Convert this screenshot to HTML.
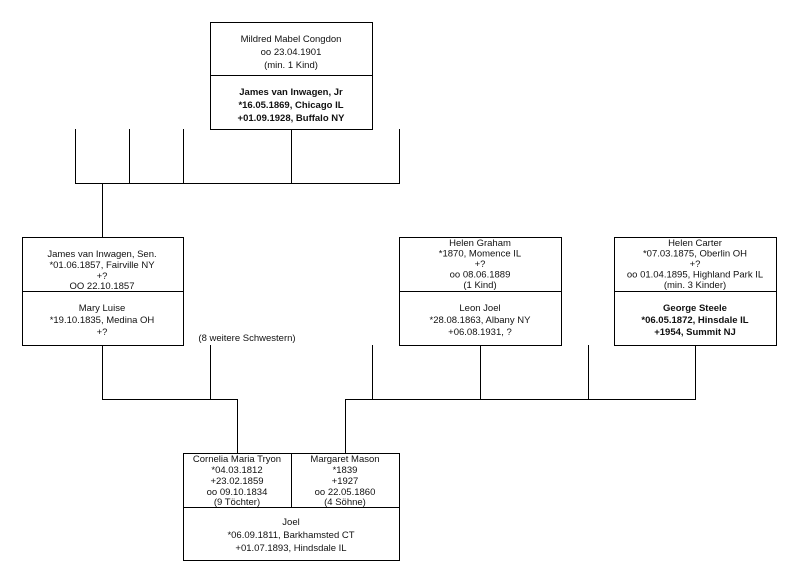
<!DOCTYPE html>
<html><head><meta charset="utf-8"><style>
html,body{margin:0;padding:0;background:#fff;}
svg{display:block;}
text{font-family:"Liberation Sans",sans-serif;font-size:9.5px;fill:#111;text-anchor:middle;}
.b{font-weight:bold;}
</style></head><body>
<svg width="798" height="583" viewBox="0 0 798 583" xmlns="http://www.w3.org/2000/svg">
<g fill="none" stroke="#000" stroke-width="1">
<rect x="210.5" y="22.5" width="162" height="107"/>
<line x1="210" y1="75.5" x2="372" y2="75.5"/>
<rect x="22.5" y="237.5" width="161" height="108"/>
<line x1="22" y1="291.5" x2="183" y2="291.5"/>
<rect x="399.5" y="237.5" width="162" height="108"/>
<line x1="399" y1="291.5" x2="561" y2="291.5"/>
<rect x="614.5" y="237.5" width="162" height="108"/>
<line x1="614" y1="291.5" x2="776" y2="291.5"/>
<rect x="183.5" y="453.5" width="216" height="107"/>
<line x1="183" y1="507.5" x2="399" y2="507.5"/>
<line x1="291.5" y1="453" x2="291.5" y2="507"/>
<line x1="75.5" y1="129" x2="75.5" y2="183"/>
<line x1="129.5" y1="129" x2="129.5" y2="183"/>
<line x1="183.5" y1="129" x2="183.5" y2="183"/>
<line x1="291.5" y1="129" x2="291.5" y2="183"/>
<line x1="399.5" y1="129" x2="399.5" y2="183"/>
<line x1="75" y1="183.5" x2="400" y2="183.5"/>
<line x1="102.5" y1="183" x2="102.5" y2="237"/>
<line x1="102.5" y1="345" x2="102.5" y2="399"/>
<line x1="210.5" y1="345" x2="210.5" y2="399"/>
<line x1="102" y1="399.5" x2="238" y2="399.5"/>
<line x1="237.5" y1="399" x2="237.5" y2="453"/>
<line x1="372.5" y1="345" x2="372.5" y2="399"/>
<line x1="480.5" y1="345" x2="480.5" y2="399"/>
<line x1="588.5" y1="345" x2="588.5" y2="399"/>
<line x1="695.5" y1="345" x2="695.5" y2="399"/>
<line x1="345" y1="399.5" x2="696" y2="399.5"/>
<line x1="345.5" y1="399" x2="345.5" y2="453"/>
</g>
<text x="291" y="42">Mildred Mabel Congdon</text>
<text x="291" y="55">oo 23.04.1901</text>
<text x="291" y="68">(min. 1 Kind)</text>
<text class="b" x="291" y="95">James van Inwagen, Jr</text>
<text class="b" x="291" y="108">*16.05.1869, Chicago IL</text>
<text class="b" x="291" y="121">+01.09.1928, Buffalo NY</text>

<text x="102" y="257">James van Inwagen, Sen.</text>
<text x="102" y="268">*01.06.1857, Fairville NY</text>
<text x="102" y="279">+?</text>
<text x="102" y="289">OO 22.10.1857</text>
<text x="102" y="311">Mary Luise</text>
<text x="102" y="323">*19.10.1835, Medina OH</text>
<text x="102" y="335">+?</text>
<text x="247" y="341">(8 weitere Schwestern)</text>

<text x="480" y="246">Helen Graham</text>
<text x="480" y="256.5">*1870, Momence IL</text>
<text x="480" y="267">+?</text>
<text x="480" y="277.5">oo 08.06.1889</text>
<text x="480" y="288">(1 Kind)</text>
<text x="480" y="311">Leon Joel</text>
<text x="480" y="323">*28.08.1863, Albany NY</text>
<text x="480" y="335">+06.08.1931, ?</text>

<text x="695" y="246">Helen Carter</text>
<text x="695" y="256.5">*07.03.1875, Oberlin OH</text>
<text x="695" y="267">+?</text>
<text x="695" y="277.5">oo 01.04.1895, Highland Park IL</text>
<text x="695" y="288">(min. 3 Kinder)</text>
<text class="b" x="695" y="311">George Steele</text>
<text class="b" x="695" y="323">*06.05.1872, Hinsdale IL</text>
<text class="b" x="695" y="335">+1954, Summit NJ</text>

<text x="237" y="462">Cornelia Maria Tryon</text>
<text x="237" y="473">*04.03.1812</text>
<text x="237" y="484">+23.02.1859</text>
<text x="237" y="495">oo 09.10.1834</text>
<text x="237" y="505">(9 Töchter)</text>
<text x="345" y="462">Margaret Mason</text>
<text x="345" y="473">*1839</text>
<text x="345" y="484">+1927</text>
<text x="345" y="495">oo 22.05.1860</text>
<text x="345" y="505">(4 Söhne)</text>
<text x="291" y="525">Joel</text>
<text x="291" y="538">*06.09.1811, Barkhamsted CT</text>
<text x="291" y="551">+01.07.1893, Hindsdale IL</text>
</svg>
</body></html>
